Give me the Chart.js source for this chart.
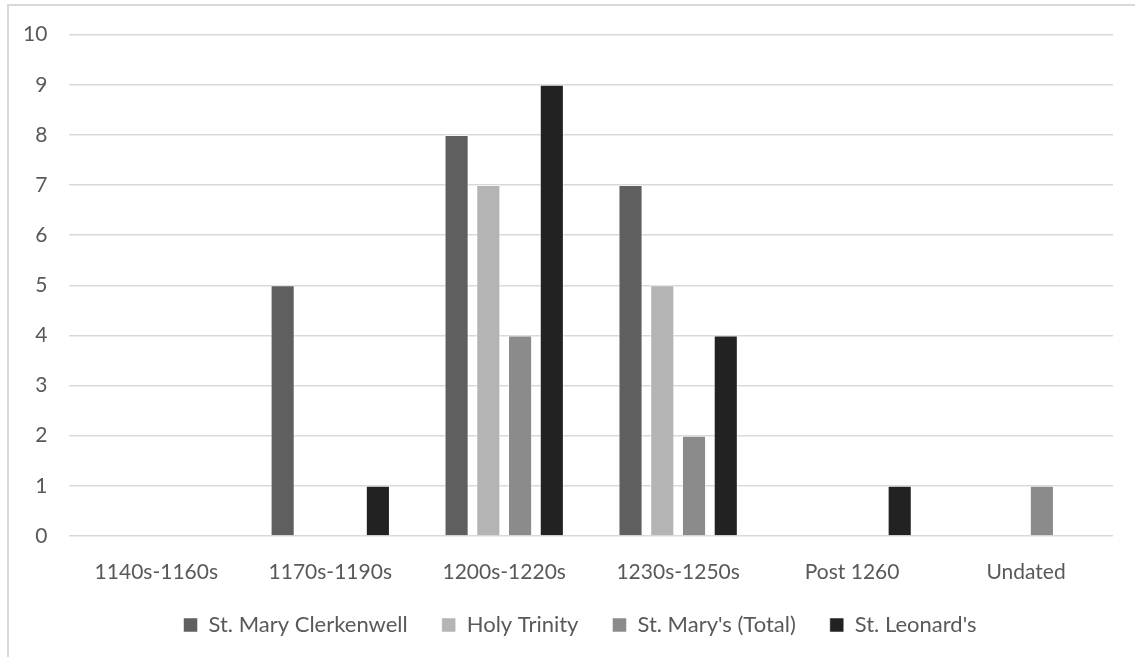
<!DOCTYPE html>
<html>
<head>
<meta charset="utf-8">
<script src="https://cdn.jsdelivr.net/npm/chart.js@4"></script>
<style>
  html, body { margin: 0; padding: 0; background: #fff; overflow: hidden; }
  #frame { position: absolute; left: 7px; top: 4px; width: 1140px; height: 670px; border: 2px solid #d9d9d9; }
  #wrap { position: absolute; left: 0; top: 0; width: 1135px; height: 646px; }
</style>
</head>
<body>
<div id="frame"></div>
<div id="wrap"><canvas id="grafico"></canvas></div>
<script>
const periodos = ['1140s-1160s', '1170s-1190s', '1200s-1220s', '1230s-1250s', 'Post 1260', 'Undated'];

const clerkenwell = [0, 5, 8, 7, 0, 0];
const trinity = [0, 0, 7, 5, 0, 0];
const stMarys = [0, 0, 4, 2, 0, 1];
const leonards = [0, 1, 9, 4, 1, 0];

const yTicks = [0, 1, 2, 3, 4, 5, 6, 7, 8, 9, 10];

const texto = '#595959';
const fonte = { family: 'Lato', size: 21 };

function serie(label, valores, cor) {
    return {
        label: label,
        data: valores,
        backgroundColor: cor,
        borderColor: 'rgba(255,255,255,0.5)',
        borderWidth: 1,
        categoryPercentage: 0.73,
        barPercentage: 0.76
    };
}

const data = {
    labels: periodos,
    datasets: [
        serie('St. Mary Clerkenwell', clerkenwell, '#5f5f5f'),
        serie('Holy Trinity', trinity, '#b4b4b4'),
        serie("St. Mary's (Total)", stMarys, '#8b8b8b'),
        serie("St. Leonard's", leonards, '#222222')
    ]
};

// the legend sits a little right of centre in the original
const deslocaLegenda = {
    id: 'deslocaLegenda',
    afterLayout: function (chart) {
        chart.legend.left += 23;
        chart.legend.right += 23;
    }
};

const config = {
    type: 'bar',
    data: data,
    plugins: [deslocaLegenda],
    options: {
        responsive: true,
        maintainAspectRatio: false,
        animation: false,
        layout: { padding: { left: 1, right: 22, top: 22, bottom: 0 } },
        plugins: {
            legend: {
                position: 'bottom',
                labels: {
                    color: texto,
                    font: { family: 'Lato', size: 22 },
                    boxWidth: 14,
                    boxHeight: 14,
                    padding: 34
                }
            },
            tooltip: { enabled: false }
        },
        scales: {
            x: {
                grid: { display: false },
                border: { display: false },
                ticks: { color: texto, font: fonte, padding: 16 },
                afterFit: function (axis) { axis.height = 44; }
            },
            y: {
                min: 0,
                max: 10,
                afterBuildTicks: function (axis) {
                    axis.ticks = yTicks.map(function (v) { return { value: v }; });
                },
                grid: { color: '#d9d9d9', lineWidth: 1.5, drawTicks: false },
                border: { display: false },
                ticks: { color: texto, font: fonte, padding: 22 }
            }
        }
    }
};

const grafico = new Chart(document.getElementById('grafico'), config);
</script>
</body>
</html>
